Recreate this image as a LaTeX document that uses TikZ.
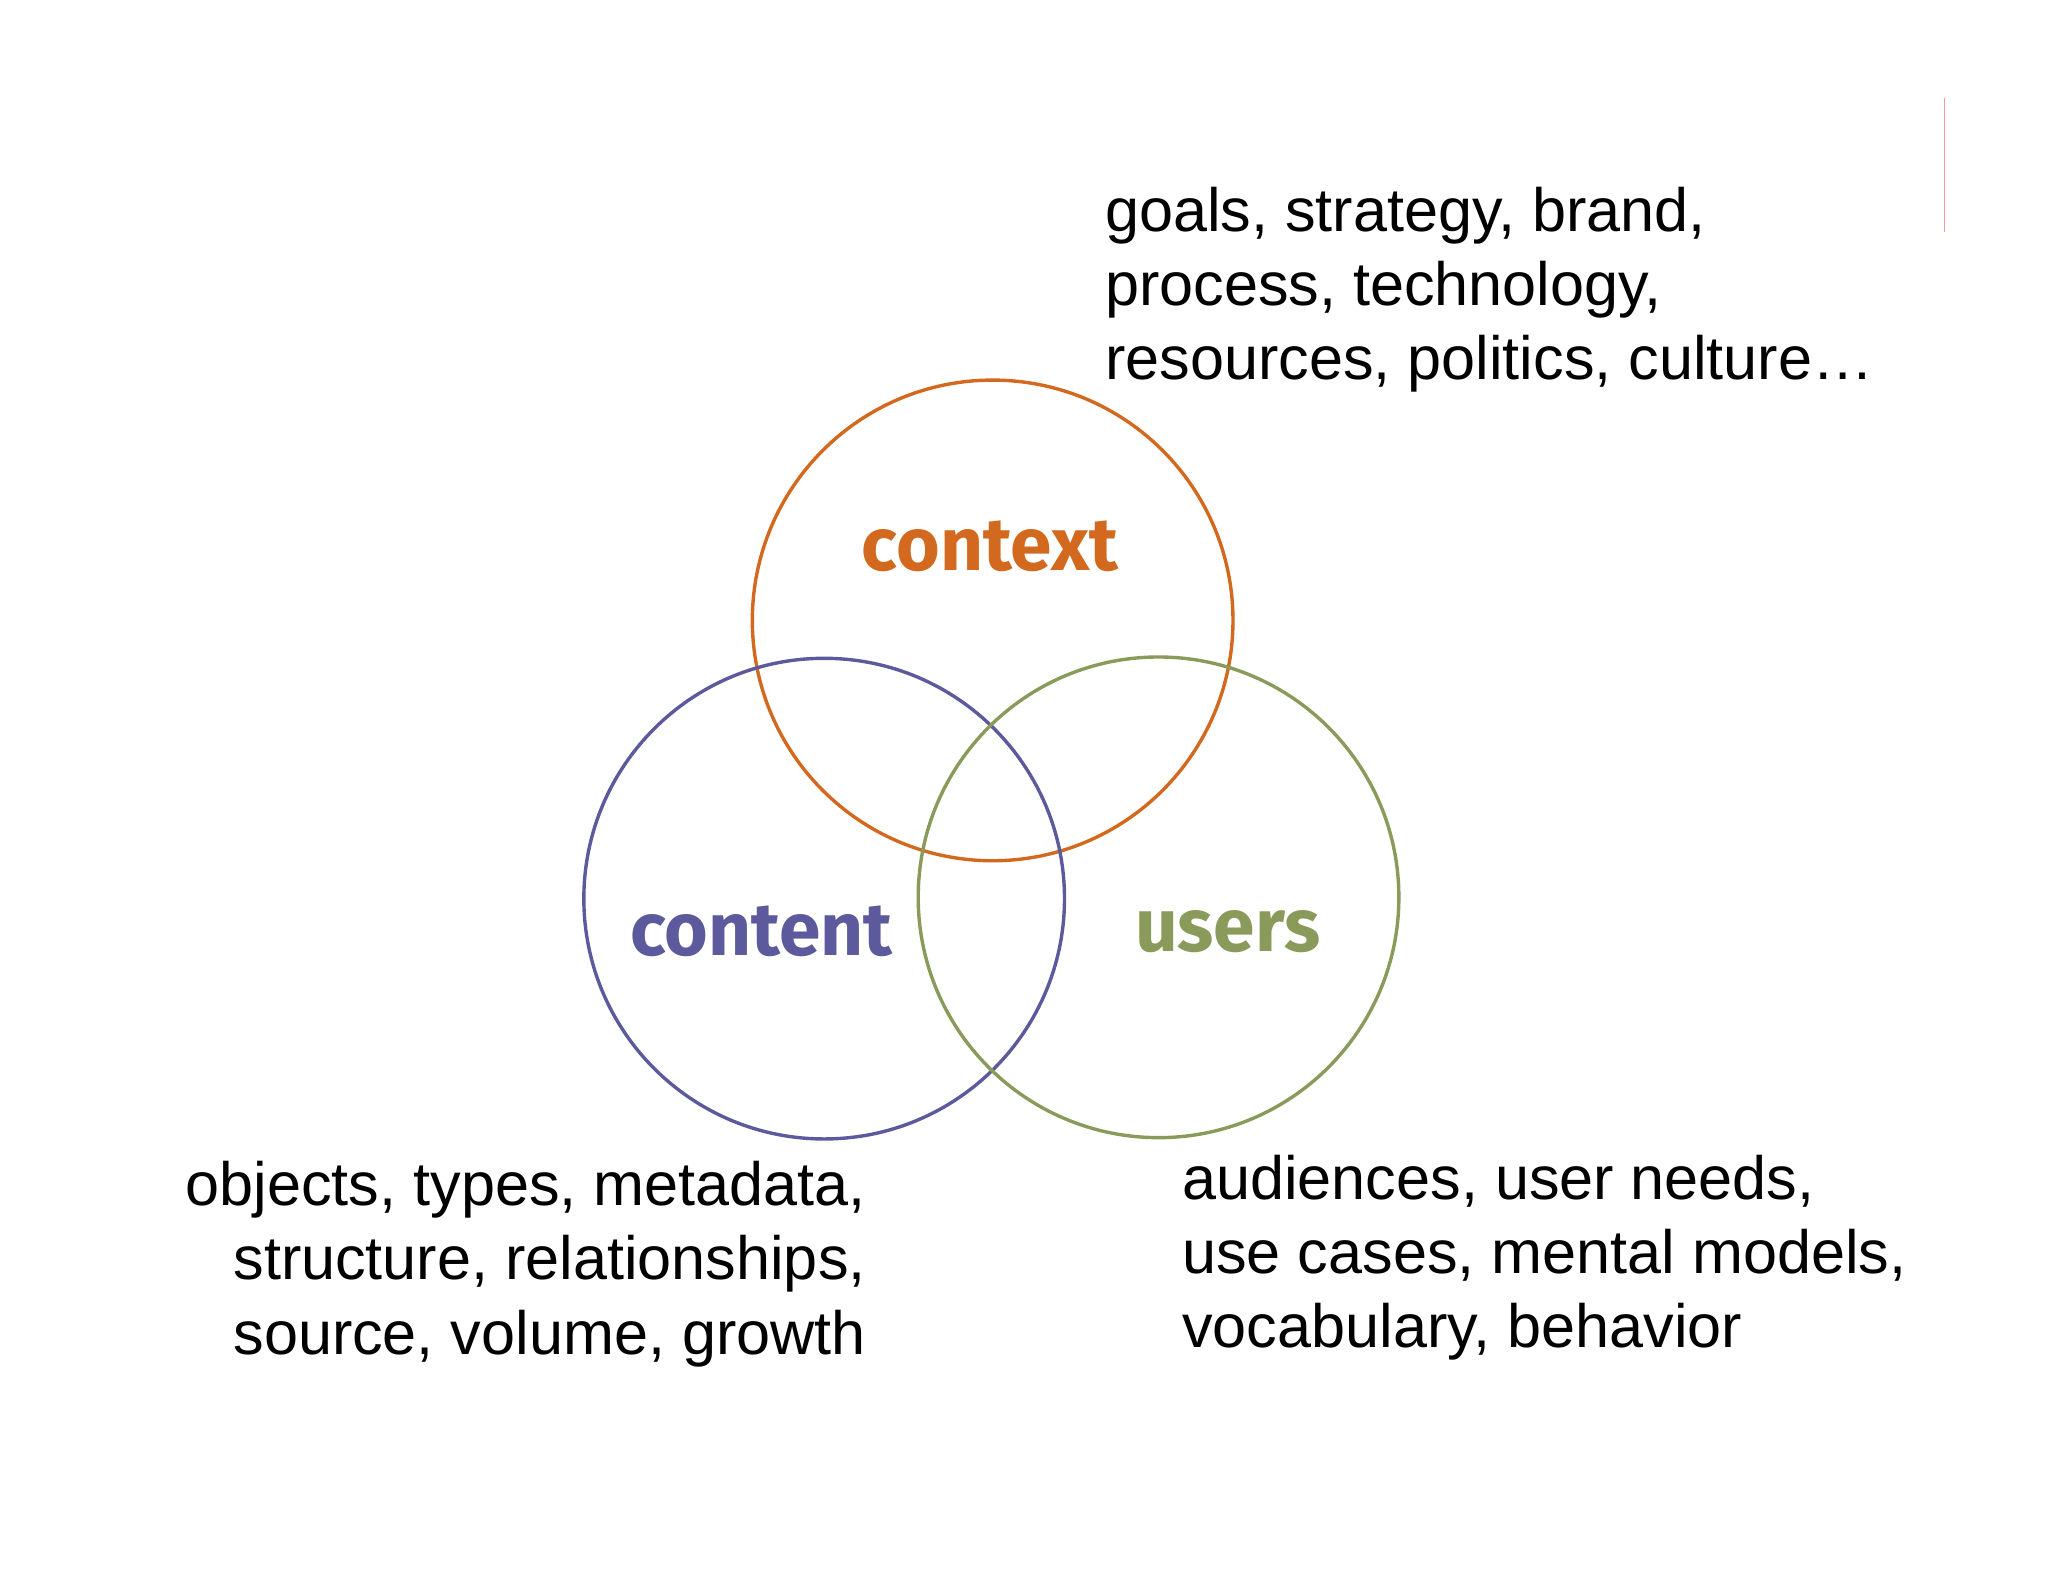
\documentclass[tikz,border=0pt]{standalone}
\usepackage{fontspec}
\setmainfont{Liberation Sans}
\newfontfamily\lblfont{Fira Sans}
\begin{document}
\begin{tikzpicture}[x=1bp,y=-1bp,
  ring/.style={line width=2.6bp},
  lbl/.style={font=\lblfont\bfseries\fontsize{57.5}{58}\selectfont},
  body/.style={font=\fontsize{47}{57}\selectfont, inner sep=0pt}]
\useasboundingbox (0,0) rectangle (1568,1211);
\definecolor{corange}{HTML}{D2691E}
\definecolor{cblue}{HTML}{5C5A9C}
\definecolor{cgreen}{HTML}{8A9A5B}
\draw[ring,corange] (760,475) circle (184);
\draw[ring,cblue] (631,688) circle (184);
\draw[ring,cgreen] (887,687) circle (184);
\node[lbl,text=corange] (ctx) at (758,418) {context};
\node[lbl,text=cblue] (cnt) at (583,713) {content};
\node[lbl,text=cgreen] (usr) at (940,713) {users};
\node[body,align=left,anchor=north west] (t1) at (846,143) {goals, strategy, brand,\\process, technology,\\resources, politics, culture\ldots};
\node[body,align=right,anchor=north east] (t2) at (663,889) {objects, types, metadata,\\structure, relationships,\\source, volume, growth};
\node[body,align=left,anchor=north west] (t3) at (905,884) {audiences, user needs,\\use cases, mental models,\\vocabulary, behavior};
\draw[red!40,line width=1bp] (1489,75) -- (1489,178);
\end{tikzpicture}
\end{document}
